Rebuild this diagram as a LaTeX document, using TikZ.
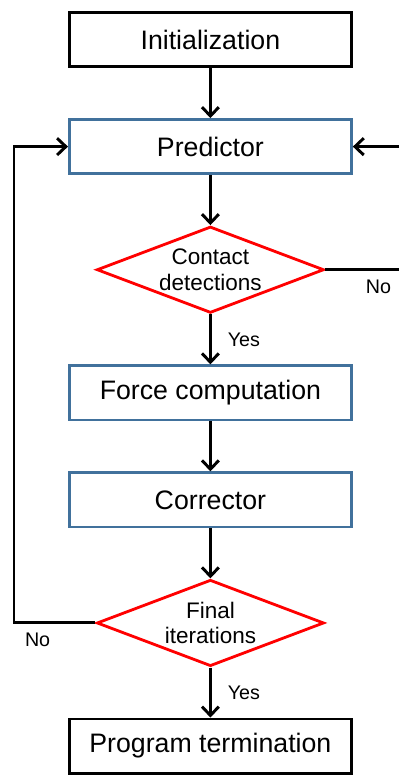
\documentclass[tikz,border=0pt]{standalone}
\usepackage{fontspec}
\setmainfont{Liberation Sans}
\usetikzlibrary{arrows.meta,positioning,shapes.geometric}
\definecolor{fcblue}{HTML}{41719C}
\definecolor{fcred}{HTML}{FF0000}

\begin{document}
\begin{tikzpicture}[
    node distance=1.25cm,
    stage/.style={draw, line width=2pt, fill=white, minimum width=7.05cm, minimum height=1.355cm, font=\fontsize{19}{22}\selectfont},
    endbox/.style={stage, draw=black},
    process/.style={stage, draw=fcblue},
    decision/.style={diamond, aspect=2.6, draw=fcred, line width=2pt, fill=white, minimum width=5.68cm, minimum height=2.16cm, inner sep=0pt, align=center, font=\fontsize{16}{18}\selectfont},
    flow/.style={-{Straight Barb[length=0.22cm, width=0.42cm]}, line width=2.1pt},
    answer/.style={font=\fontsize{14}{16}\selectfont}
  ]
    \useasboundingbox (0,0) rectangle (9.975,-19.4);

    % Main column
    \node[endbox] (init) at (5.26,-0.99) {Initialization};
    \node[process, below=of init] (pred) {Predictor};
    \node[decision, below=of pred] (contact) {Contact\\detections};
    \node[process, below=of contact] (force) {Force computation};
    \node[process, below=of force] (corr) {Corrector};
    \node[decision, below=of corr] (final) {Final\\iterations};
    \node[endbox, below=of final] (stop) {Program termination};

    % Side rails of the loops
    \coordinate (loopx) at (0.35,0);
    \coordinate (rightx) at (9.975,0);

    % Edges
    \draw[flow] (init) -- (pred);
    \draw[flow] (pred) -- (contact);
    \draw[flow] (contact) -- node[answer, right=0.28cm] {Yes} (force);
    \draw[flow] (force) -- (corr);
    \draw[flow] (corr) -- (final);
    \draw[flow] (final) -- node[answer, right=0.28cm] {Yes} (stop);
    \draw[line width=2.1pt] (contact.east) -- node[answer, pos=0.72, below=0.1cm] {No} (contact.east -| rightx);
    \draw[flow] (pred.east -| rightx) -- (pred.east);
    \draw[flow] (final.west) -- node[answer, pos=0.71, below=0.1cm] {No} (final.west -| loopx) |- (pred.west);
  \end{tikzpicture}
\end{document}
